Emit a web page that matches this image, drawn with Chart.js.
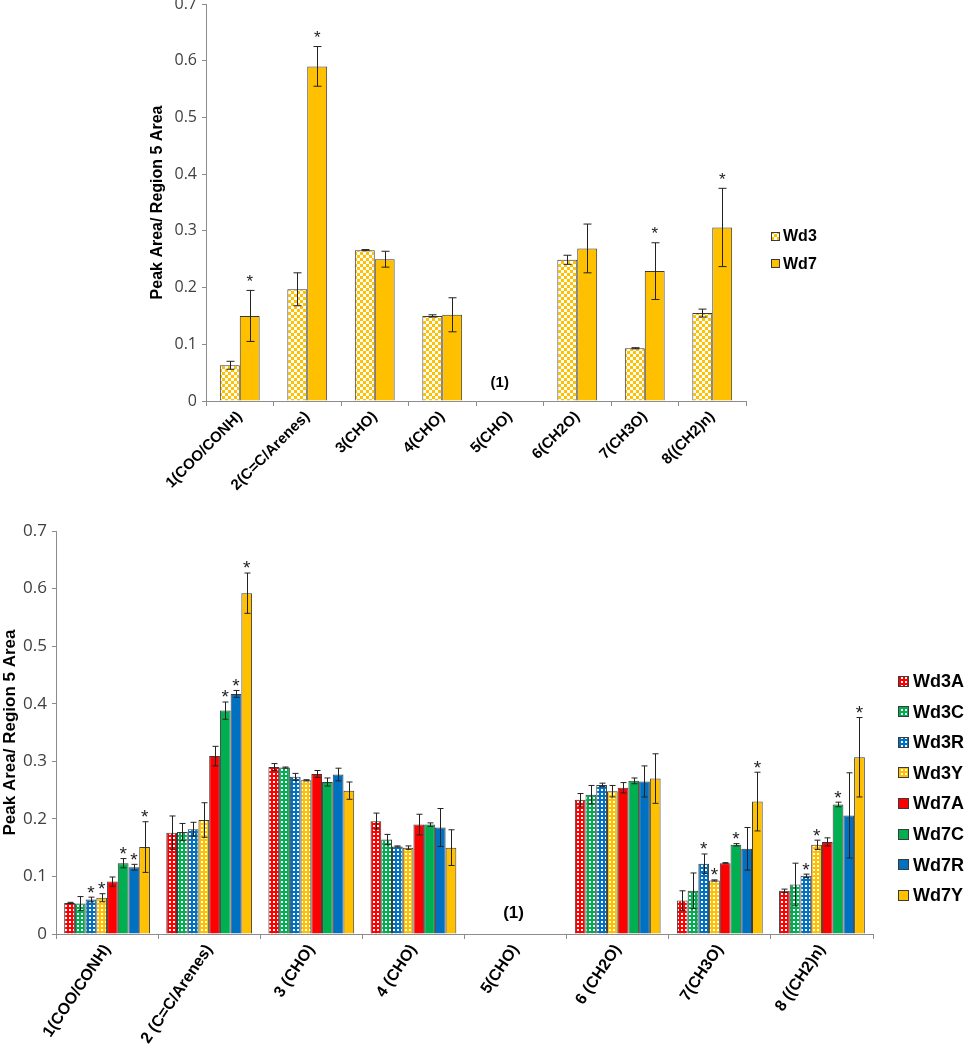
<!DOCTYPE html>
<html>
<head>
<meta charset="utf-8">
<script src="https://cdn.jsdelivr.net/npm/chart.js@4/dist/chart.umd.min.js"></script>
<style>
  body { margin: 0; background: #fff; width: 967px; height: 1050px; position: relative; overflow: hidden; }
  canvas { position: absolute; left: 0; }
  #topChart { top: 0; }
  #bottomChart { top: 520px; }
</style>
</head>
<body>
<canvas id="topChart" width="967" height="520"></canvas>
<canvas id="bottomChart" width="967" height="530"></canvas>
<script>
"use strict";

// ---- data ----
const topLabels = ['1(COO/CONH)', '2(C=C/Arenes)', '3(CHO)', '4(CHO)', '5(CHO)', '6(CH2O)', '7(CH3O)', '8((CH2)n)'];
const bottomLabels = ['1(COO/CONH)', '2 (C=C/Arenes)', '3 (CHO)', '4 (CHO)', '5(CHO)', '6 (CH2O)', '7(CH3O)', '8 ((CH2)n)'];
const yTicks = [0, 0.1, 0.2, 0.3, 0.4, 0.5, 0.6, 0.7];

// top chart
const wd3 = [0.063, 0.197, 0.266, 0.150, null, 0.249, 0.093, 0.155];
const wd3Err = [0.007, 0.029, 0.001, 0.002, null, 0.008, 0.001, 0.007];
const wd3Star = [0, 0, 0, 0, 0, 0, 0, 0];
const wd7 = [0.150, 0.590, 0.250, 0.152, null, 0.269, 0.229, 0.306];
const wd7Err = [0.045, 0.035, 0.014, 0.030, null, 0.043, 0.050, 0.069];
const wd7Star = [1, 1, 0, 0, 0, 0, 1, 1];

// bottom chart
const wd3A = [0.054, 0.176, 0.290, 0.196, null, 0.233, 0.058, 0.075];
const wd3AErr = [0.001, 0.029, 0.006, 0.014, null, 0.011, 0.017, 0.003];
const wd3AStar = [0, 0, 0, 0, 0, 0, 0, 0];
const wd3C = [0.053, 0.177, 0.289, 0.164, null, 0.242, 0.075, 0.086];
const wd3CErr = [0.012, 0.015, 0.001, 0.009, null, 0.016, 0.031, 0.037];
const wd3CStar = [0, 0, 0, 0, 0, 0, 0, 0];
const wd3R = [0.060, 0.182, 0.273, 0.152, null, 0.259, 0.122, 0.101];
const wd3RErr = [0.004, 0.012, 0.006, 0.001, null, 0.003, 0.017, 0.003];
const wd3RStar = [1, 0, 0, 0, 0, 0, 1, 1];
const wd3Y = [0.063, 0.198, 0.267, 0.150, null, 0.248, 0.093, 0.155];
const wd3YErr = [0.007, 0.030, 0.001, 0.003, null, 0.010, 0.001, 0.008];
const wd3YStar = [1, 0, 0, 0, 0, 0, 1, 1];
const wd7A = [0.091, 0.309, 0.278, 0.190, null, 0.254, 0.123, 0.160];
const wd7AErr = [0.008, 0.017, 0.006, 0.018, null, 0.009, 0.001, 0.007];
const wd7AStar = [0, 0, 0, 0, 0, 0, 0, 0];
const wd7C = [0.123, 0.388, 0.264, 0.190, null, 0.266, 0.155, 0.225];
const wd7CErr = [0.008, 0.015, 0.007, 0.003, null, 0.005, 0.002, 0.004];
const wd7CStar = [1, 1, 0, 0, 0, 0, 1, 1];
const wd7R = [0.116, 0.417, 0.277, 0.185, null, 0.265, 0.148, 0.206];
const wd7RErr = [0.005, 0.006, 0.011, 0.033, null, 0.027, 0.037, 0.074];
const wd7RStar = [1, 1, 0, 0, 0, 0, 0, 0];
const wd7Y = [0.151, 0.592, 0.249, 0.150, null, 0.270, 0.230, 0.307];
const wd7YErr = [0.044, 0.035, 0.015, 0.031, null, 0.043, 0.051, 0.069];
const wd7YStar = [1, 1, 0, 0, 0, 0, 1, 1];

const RED = '#ff0000', GREEN = '#00b050', BLUE = '#0070c0', GOLD = '#ffc000';
const EDGE = '#3a3a3a';

/* white/colour checkerboard fill for the Wd3 series in the top chart. */
const checker = (ctx, color, cell) => {
    const c = document.createElement('canvas');
    c.width = c.height = cell * 2;
    const g = c.getContext('2d');
    g.fillStyle = '#fff';
    g.fillRect(0, 0, cell * 2, cell * 2);
    g.fillStyle = color;
    g.fillRect(0, 0, cell, cell);
    g.fillRect(cell, cell, cell, cell);
    return ctx.createPattern(c, 'repeat');
};

/* colour with small white dots, for the Wd3 series in the bottom chart. */
const dotted = (ctx, color) => {
    const c = document.createElement('canvas');
    c.width = c.height = 4;
    const g = c.getContext('2d');
    g.fillStyle = color;
    g.fillRect(0, 0, 4, 4);
    g.fillStyle = '#fff';
    g.fillRect(1, 1, 2, 2);
    return ctx.createPattern(c, 'repeat');
};

/* error bars, asterisks, the "(1)" note and the legend. */
const extrasPlugin = {
    id: 'extras',
    afterDatasetsDraw(chart, args, opts) {
        const ctx = chart.ctx;
        const ys = chart.scales.y, xs = chart.scales.x;
        ctx.save();
        chart.data.datasets.forEach((ds, di) => {
            const meta = chart.getDatasetMeta(di);
            meta.data.forEach((bar, i) => {
                const v = ds.data[i];
                if (v == null) return;
                let top = bar.y;
                const e = ds.errors[i];
                if (e != null) {
                    const y1 = ys.getPixelForValue(v + e), y2 = ys.getPixelForValue(v - e);
                    const x = Math.round(bar.x) + 0.5;
                    ctx.strokeStyle = '#222';
                    ctx.lineWidth = 1;
                    ctx.beginPath();
                    ctx.moveTo(x, y1); ctx.lineTo(x, y2);
                    ctx.moveTo(x - opts.cap, y1); ctx.lineTo(x + opts.cap, y1);
                    ctx.moveTo(x - opts.cap, y2); ctx.lineTo(x + opts.cap, y2);
                    ctx.stroke();
                    top = Math.min(top, y1);
                }
                if (ds.stars[i]) {
                    ctx.fillStyle = '#222';
                    ctx.font = `${opts.starSize}px "Liberation Sans"`;
                    ctx.textAlign = 'center';
                    ctx.textBaseline = 'alphabetic';
                    ctx.fillText('*', bar.x, top - opts.starGap + opts.starSize * 0.6);
                }
            });
        });

        // note for the empty category
        ctx.fillStyle = '#000';
        ctx.font = `bold ${opts.noteSize}px "Liberation Sans"`;
        ctx.textAlign = 'center';
        ctx.textBaseline = 'middle';
        ctx.fillText('(1)', xs.getPixelForValue(4) + opts.noteDx, ys.bottom - opts.noteDy);

        // legend
        ctx.textAlign = 'left';
        ctx.font = `bold ${opts.legendSize}px "Liberation Sans"`;
        chart.data.datasets.forEach((ds, di) => {
            const y = opts.legendY + di * opts.legendDy;
            const s = opts.swatch;
            const top = Math.round(y - s / 2);
            ctx.fillStyle = ds.backgroundColor;
            ctx.fillRect(opts.legendX, top, s, s);
            ctx.strokeStyle = EDGE;
            ctx.lineWidth = 1;
            ctx.strokeRect(opts.legendX + 0.5, top + 0.5, s - 1, s - 1);
            ctx.fillStyle = '#000';
            ctx.fillText(ds.label, opts.legendX + s + opts.legendGap, y + 1);
        });
        ctx.restore();
    }
};

const makeScales = (c) => ({
    x: {
        grid: { offset: true, drawOnChartArea: false, tickLength: 5, color: '#8c8c8c' },
        border: { color: '#8c8c8c' },
        ticks: {
            autoSkip: false, minRotation: c.rot, maxRotation: c.rot, padding: 2, color: '#000',
            font: { family: 'Liberation Sans', weight: 'bold', size: c.xFont }
        },
        afterFit: s => { s.height = c.xHeight; s.paddingLeft = 0; s.paddingRight = 0; }
    },
    y: {
        min: 0, max: 0.7,
        afterBuildTicks: s => { s.ticks = yTicks.map(v => ({ value: v })); },
        grid: { drawOnChartArea: false, tickLength: 4, color: '#8c8c8c' },
        border: { color: '#8c8c8c' },
        ticks: {
            padding: 5, color: '#404040',
            font: { family: 'Open Sans', size: c.yFont },
            callback: v => v === 0 ? '0' : v.toFixed(1)
        },
        title: {
            display: true, text: 'Peak Area/ Region 5 Area', color: '#000', padding: 0,
            font: { family: 'Liberation Sans', weight: 'bold', size: c.titleFont }
        },
        afterFit: s => { s.width = c.yWidth; s.paddingTop = 0; s.paddingBottom = 0; }
    }
});

const barSet = (label, data, errors, stars, fill) => ({
    label: label,
    data: data,
    errors: errors,
    stars: stars,
    backgroundColor: fill,
    borderColor: EDGE,
    borderWidth: 1
});

// ---- top chart ----
const ctxTop = document.getElementById('topChart').getContext('2d');
new Chart(ctxTop, {
    type: 'bar',
    data: {
        labels: topLabels,
        datasets: [
            barSet('Wd3', wd3, wd3Err, wd3Star, checker(ctxTop, GOLD, 3)),
            barSet('Wd7', wd7, wd7Err, wd7Star, GOLD)
        ]
    },
    options: {
        responsive: false,
        animation: false,
        categoryPercentage: 0.59,
        barPercentage: 1,
        layout: { padding: { left: 148, right: 221, top: 4, bottom: 0 } },
        scales: makeScales({ rot: 45, xFont: 15, xHeight: 119, yFont: 16, titleFont: 16, yWidth: 58 }),
        plugins: {
            legend: { display: false },
            tooltip: { enabled: false },
            extras: {
                cap: 4, starSize: 17, starGap: 14, noteSize: 15, noteDx: -10, noteDy: 18,
                legendX: 771, legendY: 236, legendDy: 27.5, legendSize: 16, swatch: 9, legendGap: 3
            }
        }
    },
    plugins: [extrasPlugin]
});

// ---- bottom chart ----
const ctxBot = document.getElementById('bottomChart').getContext('2d');
new Chart(ctxBot, {
    type: 'bar',
    data: {
        labels: bottomLabels,
        datasets: [
            barSet('Wd3A', wd3A, wd3AErr, wd3AStar, dotted(ctxBot, RED)),
            barSet('Wd3C', wd3C, wd3CErr, wd3CStar, dotted(ctxBot, GREEN)),
            barSet('Wd3R', wd3R, wd3RErr, wd3RStar, dotted(ctxBot, BLUE)),
            barSet('Wd3Y', wd3Y, wd3YErr, wd3YStar, dotted(ctxBot, GOLD)),
            barSet('Wd7A', wd7A, wd7AErr, wd7AStar, RED),
            barSet('Wd7C', wd7C, wd7CErr, wd7CStar, GREEN),
            barSet('Wd7R', wd7R, wd7RErr, wd7RStar, BLUE),
            barSet('Wd7Y', wd7Y, wd7YErr, wd7YStar, GOLD)
        ]
    },
    options: {
        responsive: false,
        animation: false,
        categoryPercentage: 0.84,
        barPercentage: 1,
        layout: { padding: { left: 0, right: 94, top: 11, bottom: 0 } },
        scales: makeScales({ rot: 56, xFont: 16, xHeight: 116, yFont: 17, titleFont: 17, yWidth: 56 }),
        plugins: {
            legend: { display: false },
            tooltip: { enabled: false },
            extras: {
                cap: 3, starSize: 19, starGap: 10, noteSize: 17, noteDx: -2, noteDy: 21,
                legendX: 898, legendY: 161, legendDy: 30.6, legendSize: 18, swatch: 11, legendGap: 4
            }
        }
    },
    plugins: [extrasPlugin]
});
</script>
</body>
</html>
